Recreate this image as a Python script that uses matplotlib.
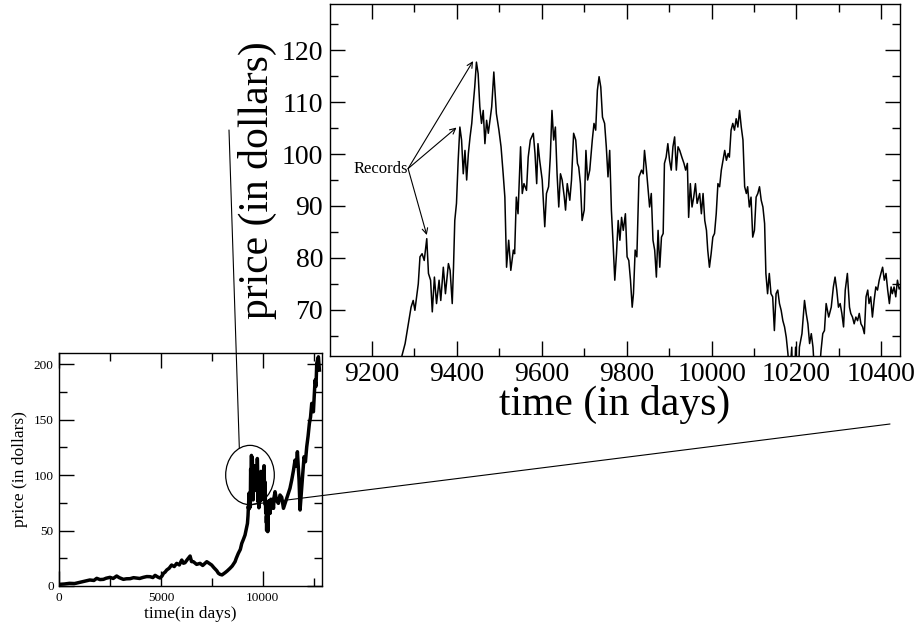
import numpy as np
import matplotlib.pyplot as plt
from matplotlib.patches import Ellipse, ConnectionPatch
from matplotlib.ticker import MultipleLocator

plt.rcParams['font.family'] = ['Liberation Serif', 'DejaVu Serif']

# price series, early part (days 0 - 9250)
days_early = [0, 250, 500, 750, 1000, 1250, 1500, 1700, 1840, 2000, 2170, 2300,
              2490, 2650, 2820, 2950, 3150, 3300, 3480, 3650, 3800, 3950, 4130, 4300,
              4460, 4600, 4710, 4850, 4950, 5050, 5120, 5200, 5280, 5400, 5520, 5650,
              5770, 5900, 6020, 6100, 6180, 6300, 6430, 6500, 6590, 6750, 6920, 7050,
              7250, 7400, 7490, 7600, 7740, 7820, 7900, 8000, 8150, 8250, 8390, 8500,
              8640, 8700, 8800, 8900, 8970, 9050, 9130, 9200, 9250]
price_early = [1.5, 1.8, 2.4, 2.2, 3.3, 4.5, 5.4, 5.0, 6.9, 5.8, 6.0, 7.0,
               7.8, 6.8, 9.0, 7.5, 6.0, 6.5, 6.6, 7.5, 7.2, 6.8, 7.8, 8.5,
               8.4, 7.6, 9.6, 8.0, 7.2, 9.0, 11.4, 12.5, 14.4, 16.0, 18.9, 17.5,
               20.4, 19.0, 23.4, 20.5, 21.0, 24.0, 27.0, 22.0, 21.9, 19.5, 20.4, 18.5,
               21.9, 20.0, 18.9, 16.5, 13.8, 11.5, 10.5, 10.0, 12.0, 13.5, 15.9, 18.0,
               21.9, 25.0, 29.4, 33.0, 38.4, 42.0, 45.9, 52.0, 56.4]

# zoomed stretch (days 9270 - 10442)
days_zoom = [9270, 9278, 9285, 9292, 9297, 9301, 9305, 9309, 9313, 9318, 9323, 9329,
             9333, 9338, 9342, 9347, 9352, 9358, 9362, 9368, 9373, 9380, 9384, 9389,
             9392, 9395, 9399, 9403, 9407, 9411, 9415, 9419, 9423, 9427, 9431, 9435,
             9438, 9442, 9446, 9450, 9454, 9458, 9462, 9466, 9470, 9474, 9478, 9482,
             9487, 9493, 9499, 9504, 9509, 9513, 9517, 9522, 9527, 9533, 9536, 9540,
             9544, 9550, 9554, 9558, 9564, 9568, 9573, 9580, 9584, 9588, 9591, 9595,
             9601, 9607, 9611, 9616, 9620, 9624, 9628, 9632, 9636, 9640, 9644, 9648,
             9653, 9656, 9660, 9666, 9670, 9675, 9680, 9684, 9687, 9691, 9695, 9700,
             9704, 9708, 9713, 9719, 9723, 9727, 9731, 9735, 9739, 9743, 9748, 9752,
             9756, 9760, 9764, 9768, 9772, 9776, 9780, 9784, 9788, 9792, 9797, 9801,
             9805, 9809, 9813, 9816, 9820, 9824, 9829, 9835, 9839, 9842, 9846, 9850,
             9854, 9858, 9862, 9866, 9870, 9874, 9878, 9882, 9886, 9889, 9893, 9897,
             9901, 9905, 9909, 9913, 9917, 9921, 9925, 9930, 9935, 9939, 9943, 9946,
             9950, 9954, 9958, 9962, 9966, 9972, 9976, 9980, 9984, 9988, 9991, 9995,
             9999, 10003, 10007, 10011, 10015, 10019, 10023, 10027, 10031, 10035, 10039, 10042,
             10046, 10050, 10054, 10058, 10062, 10066, 10070, 10074, 10078, 10082, 10085, 10089,
             10093, 10097, 10101, 10105, 10109, 10113, 10117, 10121, 10125, 10128, 10132, 10136,
             10140, 10144, 10148, 10152, 10156, 10160, 10164, 10168, 10172, 10176, 10180, 10184,
             10189, 10193, 10198, 10203, 10207, 10213, 10219, 10223, 10227, 10231, 10235, 10239,
             10244, 10248, 10254, 10258, 10262, 10266, 10270, 10276, 10282, 10287, 10291, 10295,
             10299, 10303, 10307, 10311, 10315, 10320, 10325, 10328, 10332, 10336, 10340, 10344,
             10348, 10352, 10356, 10360, 10364, 10368, 10371, 10375, 10379, 10383, 10387, 10391,
             10395, 10399, 10403, 10407, 10411, 10415, 10419, 10423, 10426, 10430, 10434, 10438,
             10442]
price_zoom = [61.0, 63.5, 67.0, 70.5, 71.8, 69.9, 72.5, 75.0, 80.2, 80.8, 79.5, 83.7,
              77.0, 75.7, 69.6, 76.3, 71.2, 75.7, 71.8, 78.2, 73.1, 78.9, 77.6, 71.2,
              78.2, 87.2, 90.5, 98.8, 105.2, 102.7, 96.2, 100.7, 95.0, 100.1, 103.3, 105.9,
              109.1, 112.9, 117.7, 115.5, 109.1, 105.9, 108.4, 102.0, 106.5, 104.0, 106.5, 109.1,
              115.8, 107.8, 104.6, 101.4, 96.2, 91.7, 78.2, 83.4, 77.6, 81.5, 80.8, 91.7,
              88.5, 101.4, 92.4, 94.3, 93.0, 99.4, 102.7, 104.0, 100.1, 94.3, 102.0, 98.8,
              95.0, 86.0, 92.4, 93.7, 99.4, 108.4, 102.7, 105.2, 96.2, 89.8, 96.2, 95.0,
              91.7, 89.2, 94.3, 91.1, 95.0, 104.0, 102.7, 98.2, 97.5, 94.3, 87.2, 89.2,
              100.7, 95.0, 96.9, 102.7, 105.9, 104.6, 112.3, 114.9, 112.9, 107.1, 105.9, 101.4,
              95.6, 100.7, 89.2, 82.8, 75.7, 80.8, 87.2, 83.4, 87.8, 85.3, 88.5, 80.2,
              79.5, 75.7, 70.5, 73.1, 81.5, 80.2, 95.6, 96.9, 96.2, 100.7, 97.5, 93.7,
              89.8, 92.4, 83.4, 81.5, 76.3, 85.3, 78.2, 84.0, 84.7, 98.2, 99.4, 102.0,
              98.8, 96.9, 101.4, 103.3, 96.9, 101.4, 100.7, 99.4, 98.2, 96.9, 98.2, 87.8,
              94.3, 89.8, 91.7, 94.3, 90.5, 92.4, 88.5, 92.4, 87.2, 85.3, 81.5, 78.2,
              80.8, 84.0, 84.7, 88.5, 94.3, 93.7, 96.9, 98.8, 100.7, 98.8, 100.1, 99.4,
              104.6, 105.9, 104.6, 106.8, 105.2, 108.4, 105.2, 102.7, 93.7, 92.4, 93.7, 89.8,
              91.7, 84.0, 85.3, 91.7, 92.4, 93.7, 91.1, 89.8, 86.6, 77.0, 73.1, 77.0,
              73.1, 72.5, 66.0, 73.1, 73.8, 71.2, 69.9, 67.9, 66.7, 64.7, 61.5, 57.0,
              62.8, 50.0, 62.8, 53.0, 62.8, 65.4, 71.8, 69.3, 67.3, 63.5, 65.4, 62.8,
              56.0, 49.0, 58.0, 62.2, 65.4, 66.0, 71.2, 68.6, 70.5, 74.4, 76.3, 73.8,
              70.5, 71.2, 69.3, 66.7, 73.8, 77.0, 70.5, 69.3, 68.6, 67.3, 68.6, 67.9,
              69.3, 67.3, 66.7, 65.4, 72.5, 73.8, 71.2, 72.5, 68.6, 71.8, 74.4, 73.8,
              75.7, 77.0, 78.2, 75.7, 77.0, 73.8, 71.2, 74.4, 73.1, 74.4, 72.5, 75.7,
              74.0]

# late part (days 10480 - 12790)
days_late = [10480, 10530, 10560, 10606, 10680, 10770, 10850, 10934, 11020, 11098,
             11180, 11262, 11340, 11426, 11510, 11590, 11650, 11705, 11787, 11836,
             11918, 11980, 12033, 12100, 12164, 12230, 12295, 12350, 12410, 12492,
             12574, 12620, 12656, 12738, 12787]
price_late = [78.0, 70.0, 80.0, 85.0, 77.0, 74.5, 82.0, 80.0, 70.0, 74.5,
              79.0, 83.5, 88.0, 95.5, 104.0, 113.5, 108.0, 121.0, 95.5, 68.5,
              89.5, 104.0, 116.5, 112.0, 125.5, 135.0, 146.6, 152.0, 164.6, 157.0,
              185.6, 180.0, 200.6, 206.6, 194.6]

days = np.array(days_early + days_zoom + days_late)
price = np.array(price_early + price_zoom + price_late)

W, H = 915, 630


def box(left, top, right, bottom):
    return [left / W, 1 - bottom / H, (right - left) / W, (bottom - top) / H]


fig = plt.figure(figsize=(W / 100, H / 100), dpi=100)
ax_big = fig.add_axes(box(330, 4, 900, 356))
ax_small = fig.add_axes(box(59.3, 353, 321.7, 586))

for ax in (ax_big, ax_small):
    ax.tick_params(which='both', direction='in', top=True, right=True, width=1)
    ax.tick_params(which='major', length=11)
    ax.tick_params(which='minor', length=6)
    for s in ax.spines.values():
        s.set_linewidth(1)

# big panel
ax_big.plot(days, price, color='black', lw=1.1)
ax_big.set_xlim(9101, 10444)
ax_big.set_ylim(61.1, 128.9)
ax_big.xaxis.set_major_locator(MultipleLocator(200))
ax_big.xaxis.set_minor_locator(MultipleLocator(100))
ax_big.yaxis.set_major_locator(MultipleLocator(10))
ax_big.yaxis.set_minor_locator(MultipleLocator(5))
ax_big.tick_params(labelsize=20)
ax_big.tick_params(axis='x', pad=4)
ax_big.tick_params(axis='y', pad=5)
ax_big.set_xlabel('time (in days)', fontsize=30, labelpad=-1)
ax_big.set_ylabel('price (in dollars)', fontsize=30, labelpad=3)

ax_big.text(9285, 97.2, 'Records', ha='right', va='center', fontsize=12)
for tip in [(9438, 117.9), (9399, 105.1), (9329, 84.4)]:
    ax_big.annotate('', xy=tip, xytext=(9285, 97.2),
                    arrowprops=dict(arrowstyle='->', lw=0.8, color='black',
                                    shrinkA=0, shrinkB=0))

# small panel
ax_small.plot(days, price, color='black', lw=2.5)
ax_small.set_xlim(0, 12900)
ax_small.set_ylim(0, 210)
ax_small.xaxis.set_major_locator(MultipleLocator(5000))
ax_small.xaxis.set_minor_locator(MultipleLocator(2500))
ax_small.yaxis.set_major_locator(MultipleLocator(50))
ax_small.yaxis.set_minor_locator(MultipleLocator(25))
ax_small.tick_params(labelsize=9.5, pad=4)
ax_small.set_xlabel('time(in days)', fontsize=12.5, labelpad=2)
ax_small.set_ylabel('price (in dollars)', fontsize=12.5, labelpad=4)

ax_small.add_patch(Ellipse((9375, 100), 2390, 53.5, fill=False, lw=0.9, color='black'))

# lines joining the circled stretch to the enlarged view
for start, end in [((8850, 124.5), (229 / W, 1 - 130 / H)),
                   ((9376, 73.3), (890 / W, 1 - 424 / H))]:
    con = ConnectionPatch(xyA=start, coordsA=ax_small.transData,
                          xyB=end, coordsB='figure fraction',
                          color='black', lw=0.8)
    fig.add_artist(con)

fig.savefig('out.png', dpi=100)
